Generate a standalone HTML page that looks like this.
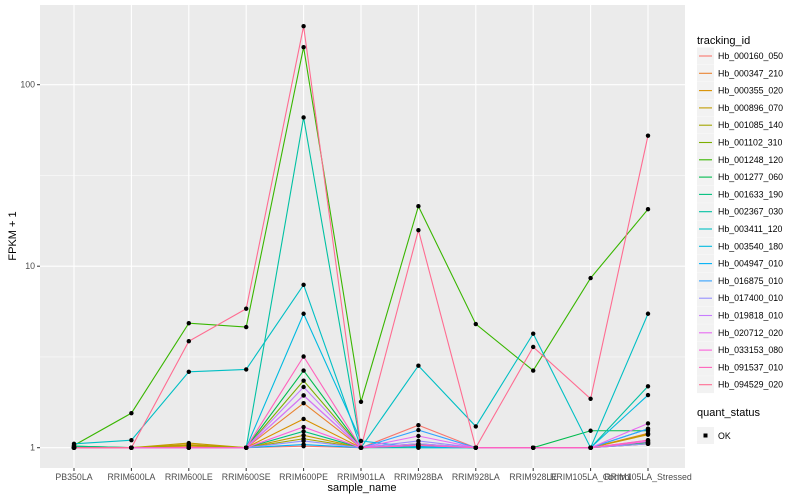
<!DOCTYPE html>
<html><head><meta charset="utf-8"><style>
body{margin:0;background:#fff;}
svg{display:block;font-family:"Liberation Sans",sans-serif;}
</style></head><body>
<svg id="chart" width="800" height="500" viewBox="0 0 800 500">
<rect x="40" y="5" width="645" height="463" fill="#ebebeb"/>
<g id="grid"></g><g id="lines"></g><g id="pts"></g><g id="axes"></g><g id="legend"></g>
<text x="16" y="236" font-size="11" text-anchor="middle" transform="rotate(-90 16 236)">FPKM + 1</text>
<text x="362" y="491" font-size="11" text-anchor="middle">sample_name</text>
</svg>
<script>
const categories=["PB350LA","RRIM600LA","RRIM600LE","RRIM600SE","RRIM600PE","RRIM901LA","RRIM928BA","RRIM928LA","RRIM928LE","RRIM105LA_Control","RRIM105LA_Stressed"];
const seriesNames=["Hb_000160_050","Hb_000347_210","Hb_000355_020","Hb_000896_070","Hb_001085_140","Hb_001102_310","Hb_001248_120","Hb_001277_060","Hb_001633_190","Hb_002367_030","Hb_003411_120","Hb_003540_180","Hb_004947_010","Hb_016875_010","Hb_017400_010","Hb_019818_010","Hb_020712_020","Hb_033153_080","Hb_091537_010","Hb_094529_020"];
const s0=[1,1,1,1,1.02,1,1.33,1,1,1,1.05];
const s1=[1,1,1.02,1,1.76,1,1.03,1,1,1,1.2];
const s2=[1,1,1.04,1,1.44,1,1.02,1,1,1,1.18];
const s3=[1,1,1.06,1,1.17,1,1.03,1,1,1,1.19];
const s4=[1,1,1.03,1,1.12,1,1.02,1,1,1,1.07];
const s5=[1,1,1,1,2.34,1,1.04,1,1,1,1.05];
const s6=[1.03,1.55,4.85,4.62,161,1.79,21.4,4.8,2.66,8.6,20.6];
const s7=[1.02,1,1,1,2.66,1,1.05,1,1,1.24,1.24];
const s8=[1.02,1,1,1,1.23,1,1.02,1,1,1,1.07];
const s9=[1,1,1,1,66,1,1,1,1,1,2.18];
const s10=[1.05,1.1,2.62,2.7,7.9,1,2.83,1.31,4.25,1,5.47];
const s11=[1,1,1,1,5.47,1.09,1,1,1,1,1.95];
const s12=[1,1,1,1,1.04,1,1.02,1,1,1,1.27];
const s13=[1,1,1,1,1.94,1,1.25,1,1,1,1.27];
const s14=[1,1,1,1,1.09,1,1.09,1,1,1,1.05];
const s15=[1,1,1,1,2.16,1,1.05,1,1,1,1.1];
const s16=[1,1,1,1,1.94,1,1.16,1,1,1,1.36];
const s17=[1,1,1,1,1.3,1,1.03,1,1,1,1.08];
const s18=[1,1,1,1,3.18,1,1.03,1,1,1,1.1];
const s19=[1,1,3.86,5.83,210,1,15.8,1,3.59,1.86,52.4];
const seriesValues=[s0,s1,s2,s3,s4,s5,s6,s7,s8,s9,s10,s11,s12,s13,s14,s15,s16,s17,s18,s19];
const colors=["#F8766D","#EA8331","#D89000","#C09B00","#A3A500","#7CAE00","#39B600","#00BB4E","#00BF7D","#00C1A3","#00BFC4","#00BAE0","#00B0F6","#35A2FF","#9590FF","#C77CFF","#E76BF3","#FA62DB","#FF62BC","#FF6C91"];
const yTicks=[1,10,100];
const yTickLabels=["1","10","100"];
const NS="http://www.w3.org/2000/svg";
function mk(tag,attrs,parent){const e=document.createElementNS(NS,tag);for(const k in attrs)e.setAttribute(k,attrs[k]);parent.appendChild(e);return e;}
const x=i=>74+i*57.4;
const y=v=>447.7-Math.log10(v)*181.5;
const grid=document.getElementById('grid'),axes=document.getElementById('axes');
[Math.sqrt(10),Math.sqrt(1000)].forEach(v=>{const l=mk('line',{x1:40,x2:685,y1:y(v),y2:y(v),stroke:'#fff','stroke-width':0.5},grid);

});
yTicks.forEach((v,i)=>{const l=mk('line',{x1:40,x2:685,y1:y(v),y2:y(v),stroke:'#fff','stroke-width':1.1},grid);


mk('line',{x1:37,x2:40,y1:y(v),y2:y(v),stroke:'#333'},axes);
const t=mk('text',{x:35,y:y(v)+3,'font-size':8.8,fill:'#4d4d4d','text-anchor':'end'},axes);t.textContent=yTickLabels[i];

});
categories.forEach((c,i)=>{const l=mk('line',{x1:x(i),x2:x(i),y1:5,y2:468,stroke:'#fff','stroke-width':1.1},grid);


mk('line',{x1:x(i),x2:x(i),y1:468,y2:471,stroke:'#333'},axes);
const t=mk('text',{x:x(i),y:480,'font-size':8.8,fill:'#4d4d4d','text-anchor':'middle'},axes);t.textContent=c;

});
const lines=document.getElementById('lines'),pts=document.getElementById('pts');
seriesValues.forEach((vals,s)=>{const p=mk('polyline',{points:vals.map((v,i)=>x(i)+','+y(v)).join(' '),fill:'none',stroke:colors[s],'stroke-width':1.1},lines);


vals.forEach((v,i)=>{const r=mk('circle',{cx:x(i),cy:y(v),r:2.2,fill:'#000'},pts);

});});
const lg=document.getElementById('legend');
const tt=mk('text',{x:697,y:44,'font-size':11},lg);tt.textContent='tracking_id';


seriesNames.forEach((n,s)=>{const cy=56+s*17.3;
const g=mk('g',{},lg);


mk('rect',{x:697,y:cy-8.6,width:17,height:17,fill:'#f2f2f2'},g);
mk('line',{x1:699,x2:712,y1:cy,y2:cy,stroke:colors[s],'stroke-width':1.1},g);
const t=mk('text',{x:718,y:cy+3,'font-size':8.8},g);t.textContent=n;});
const qt=mk('text',{x:697,y:416,'font-size':11},lg);qt.textContent='quant_status';


const g2=mk('g',{},lg);


mk('rect',{x:697,y:427,width:17,height:17,fill:'#f2f2f2'},g2);
mk('rect',{x:703.5,y:433.5,width:4,height:4,fill:'#000'},g2);
const ok=mk('text',{x:718,y:439,'font-size':8.8},g2);ok.textContent='OK';
</script>
</body></html>
